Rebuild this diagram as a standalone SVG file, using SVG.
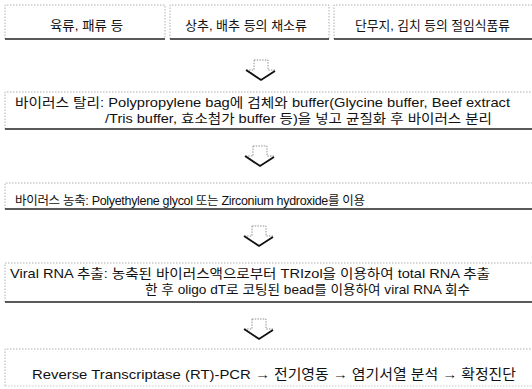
<svg xmlns="http://www.w3.org/2000/svg" width="532" height="389" viewBox="0 0 532 389">
<defs>
<style>
.box{fill:#fff;stroke:#9a9a9a;stroke-width:0.8;stroke-dasharray:1.5 1.5}
.base{stroke:#222;stroke-width:1.6;fill:none}
.t{font-family:"Liberation Sans","Noto Sans CJK KR",sans-serif;fill:#111}
.shaft{fill:#fff;stroke:#777;stroke-width:0.8;stroke-dasharray:1.5 1.2}
.head{fill:none;stroke:#111;stroke-width:1.8;stroke-linejoin:miter}
</style>
<g id="arrowShape">
<path class="shaft" d="M-7,-9 H7 V1 H14 L1,11 L-14,1 H-7 Z"/>
<path class="head" d="M-15,1 L0,11 L14,2"/>
</g>
</defs>
<rect width="532" height="389" fill="#fff"/>

<g id="n1">
<path class="box" d="M5,39 V5 H165 V39"/>
<line class="base" x1="5" y1="39" x2="165" y2="39"/>
<text class="t" x="50" y="30" font-size="13" textLength="73" lengthAdjust="spacingAndGlyphs">육류, 패류 등</text>
</g>
<g id="n2">
<path class="box" d="M170,39 V5 H329 V39"/>
<line class="base" x1="170" y1="39" x2="329" y2="39"/>
<text class="t" x="185" y="30" font-size="13" textLength="122" lengthAdjust="spacingAndGlyphs">상추, 배추 등의 채소류</text>
</g>
<g id="n3">
<path class="box" d="M334,39 V5 H532"/>
<line class="base" x1="334" y1="39" x2="532" y2="39"/>
<text class="t" x="355" y="30" font-size="13" textLength="155" lengthAdjust="spacingAndGlyphs">단무지, 김치 등의 절임식품류</text>
</g>

<g id="n4">
<path class="box" d="M5,129 V92 H532"/>
<line class="base" x1="5" y1="129" x2="532" y2="129"/>
<text class="t" x="15" y="107" font-size="13" textLength="495" lengthAdjust="spacingAndGlyphs">바이러스 탈리: Polypropylene bag에 검체와 buffer(Glycine buffer, Beef extract</text>
<text class="t" x="105" y="123" font-size="13" textLength="387" lengthAdjust="spacingAndGlyphs">/Tris buffer, 효소첨가 buffer 등)을 넣고 균질화 후 바이러스 분리</text>
</g>

<g id="n5">
<path class="box" d="M5,209 V183 H532"/>
<line class="base" x1="5" y1="209" x2="532" y2="209"/>
<text class="t" x="15" y="205" font-size="12.5" textLength="350" lengthAdjust="spacing">바이러스 농축: Polyethylene glycol 또는 Zirconium hydroxide를 이용</text>
</g>

<g id="n6">
<path class="box" d="M5,302 V263 H532"/>
<line class="base" x1="5" y1="302" x2="532" y2="302"/>
<text class="t" x="10" y="278" font-size="13" textLength="480" lengthAdjust="spacingAndGlyphs">Viral RNA 추출: 농축된 바이러스액으로부터 TRIzol을 이용하여 total RNA 추출</text>
<text class="t" x="145" y="294" font-size="13" textLength="325" lengthAdjust="spacingAndGlyphs">한 후 oligo dT로 코팅된 bead를 이용하여 viral RNA 회수</text>
</g>

<g id="n7">
<path class="box" d="M5,386 V349 H532"/>
<line x1="5" y1="386" x2="532" y2="386" stroke="#bbb" stroke-width="0.8" stroke-dasharray="1.5 1.5"/>
<text class="t" x="32" y="379" font-size="13.5" textLength="484" lengthAdjust="spacingAndGlyphs">Reverse Transcriptase (RT)-PCR → 전기영동 → 염기서열 분석 → 확정진단</text>
</g>

<g id="connectors">
<use href="#arrowShape" transform="translate(261,69)"/>
<use href="#arrowShape" transform="translate(260,155)"/>
<use href="#arrowShape" transform="translate(259,235)"/>
<use href="#arrowShape" transform="translate(259,328)"/>
</g>
</svg>
